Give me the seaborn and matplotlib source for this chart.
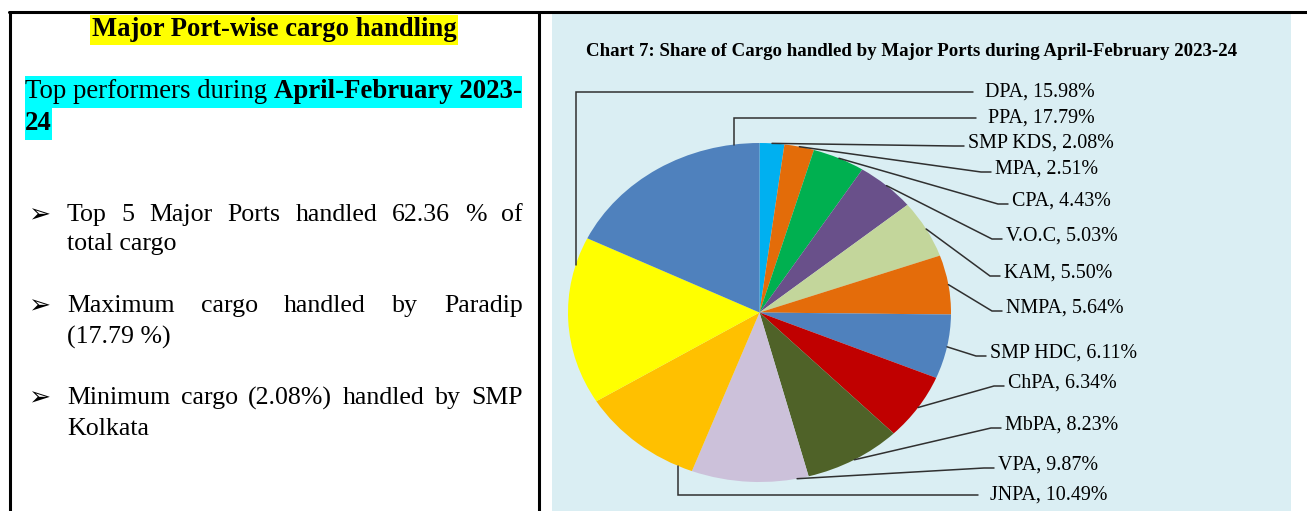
import numpy as np
import matplotlib
matplotlib.use("Agg")
import matplotlib.pyplot as plt
from matplotlib.patches import Rectangle
import seaborn as sns

# data, clockwise from 12 o'clock
ports = ["SMP KDS", "MPA", "CPA", "V.O.C", "KAM", "NMPA", "SMP HDC",
         "ChPA", "MbPA", "VPA", "JNPA", "DPA", "PPA"]
shares = [2.08, 2.51, 4.43, 5.03, 5.50, 5.64, 6.11, 6.34, 8.23, 9.87, 10.49, 15.98, 17.79]
slice_colors = ["#00B0F0", "#E36C09", "#00B050", "#69508A", "#C3D69B", "#E46C0A", "#4F81BD",
                "#C00000", "#4F6228", "#CCC1DA", "#FFC000", "#FFFF00", "#4F81BD"]

heading = "Major Port-wise cargo handling"
bullets = [
    (["Top", "5", "Major", "Ports", "handled", "62.36", "%", "of"], "total cargo"),
    (["Maximum", "cargo", "handled", "by", "Paradip"], "(17.79 %)"),
    (["Minimum", "cargo", "(2.08%)", "handled", "by", "SMP"], "Kolkata"),
]
chart_title = "Chart 7: Share of Cargo handled by Major Ports during April-February 2023-24"

# label layout (pixel positions of label left / centre, anchor spot inside wedge)
label_pos = [(968, 143), (995, 169), (1012, 201), (1006, 236), (1004, 273), (1006, 308),
             (990, 353), (1008, 383), (1005, 425), (998, 465), (990, 495), (985, 92), (988, 118)]
anchor_frac = [0.5, 0.5, 0.5, 0.5, 0.5, 0.5, 0.5, 0.5, 0.5, 0.1, 0.12, 0.83, 0.88]
elbow = {"JNPA", "DPA", "PPA"}

sns.set_theme(style="white")
plt.rcParams["text.color"] = "black"
serif = ["Liberation Serif", "DejaVu Sans"]

W, H = 1307, 511
fig = plt.figure(figsize=(W / 100, H / 100), dpi=100)
bg = fig.add_axes([0, 0, 1, 1])
bg.set_xlim(0, W)
bg.set_ylim(H, 0)
bg.axis("off")
renderer = fig.canvas.get_renderer()

# table frame and chart panel
bg.add_patch(Rectangle((552, 13), 1291 - 552, H - 13, color="#DAEEF3", lw=0))
bg.plot([9, W], [12, 12], color="black", lw=2.2)
bg.plot([10, 10], [12, H], color="black", lw=2.2)
bg.plot([539, 539], [12, H], color="black", lw=2.2)


def width_of(t):
    return t.get_window_extent(renderer).width


def justify(words, x0, x1, y, size):
    texts = [bg.text(0, y, w, fontsize=size, family=serif, va="center", ha="left") for w in words]
    widths = [width_of(t) for t in texts]
    gap = (x1 - x0 - sum(widths)) / (len(words) - 1)
    x = x0
    for t, w in zip(texts, widths):
        t.set_x(x)
        x += w + gap


# left cell
bg.text(274, 30, heading, fontsize=19.2, fontweight="bold", family=serif, ha="center", va="center",
        bbox=dict(fc="#FFFF00", ec="none", pad=1.5))
t1 = bg.text(25, 92, "Top performers during ", fontsize=19.3, family=serif, va="center", ha="left", zorder=3)
w1 = width_of(t1)
t2 = bg.text(25 + w1, 92, "April-February 2023-", fontsize=19.3, fontweight="bold", family=serif,
             va="center", ha="left", zorder=3)
w2 = width_of(t2)
t3 = bg.text(25, 124, "24", fontsize=19.3, fontweight="bold", family=serif, va="center", ha="left", zorder=3)
w3 = width_of(t3)
bg.add_patch(Rectangle((25, 76), w1 + w2, 32, color="#00FFFF", lw=0, zorder=2))
bg.add_patch(Rectangle((25, 108), w3, 32, color="#00FFFF", lw=0, zorder=2))

rows = [(215, 244), (306, 337), (398, 429)]
for (words, rest), (ya, yb) in zip(bullets, rows):
    bg.text(28, ya, "\u27a2", fontsize=19, family=["DejaVu Sans"], va="center", ha="left")
    justify(words, 67, 523, ya, 18.6)
    bg.text(67, yb, rest, fontsize=18.6, family=serif, va="center", ha="left")

bg.text(912, 51, chart_title, fontsize=13.6, fontweight="bold", family=serif, ha="center", va="center")

# pie, stretched to an ellipse like the reference
cx, cy, rx, ry = 759.5, 312.5, 191.5, 169.5


def to_pie(px, py):
    return (px - cx) / rx, (cy - py) / ry


pie_ax = fig.add_axes([552 / W, 0, (1291 - 552) / W, (H - 13) / H])
pie_ax.set_facecolor("none")
wedges, _ = pie_ax.pie(shares, colors=sns.color_palette(slice_colors), startangle=90,
                       counterclock=False, radius=1, center=(0, 0), frame=True,
                       wedgeprops=dict(lw=0))
x0, y1 = to_pie(552, 13)
x1, y0 = to_pie(1291, H)
pie_ax.set_xlim(x0, x1)
pie_ax.set_ylim(y0, y1)
pie_ax.set_aspect("auto")
pie_ax.axis("off")

for w, name, val, (lx, ly), f in zip(wedges, ports, shares, label_pos, anchor_frac):
    ang = np.deg2rad(w.theta2 - f * (w.theta2 - w.theta1))
    ax_, ay_ = np.cos(ang), np.sin(ang)
    tx, ty = to_pie(lx, ly)
    if name in elbow:
        ex, ey = to_pie(lx - 12, ly)
        xs, ys = [ax_, ax_, ex], [ay_, ey, ey]
    else:
        ex, ey = to_pie(lx - 4, ly + 3)
        kx, ky = to_pie(lx - 14, ly + 3)
        xs, ys = [ax_, kx, ex], [ay_, ky, ey]
    pie_ax.plot(xs, ys, color="#303030", lw=1.1, solid_joinstyle="miter")
    pie_ax.text(tx, ty, f"{name}, {val:.2f}%", fontsize=14.4, family=serif, va="center", ha="left")

fig.savefig("out.png", dpi=100)
